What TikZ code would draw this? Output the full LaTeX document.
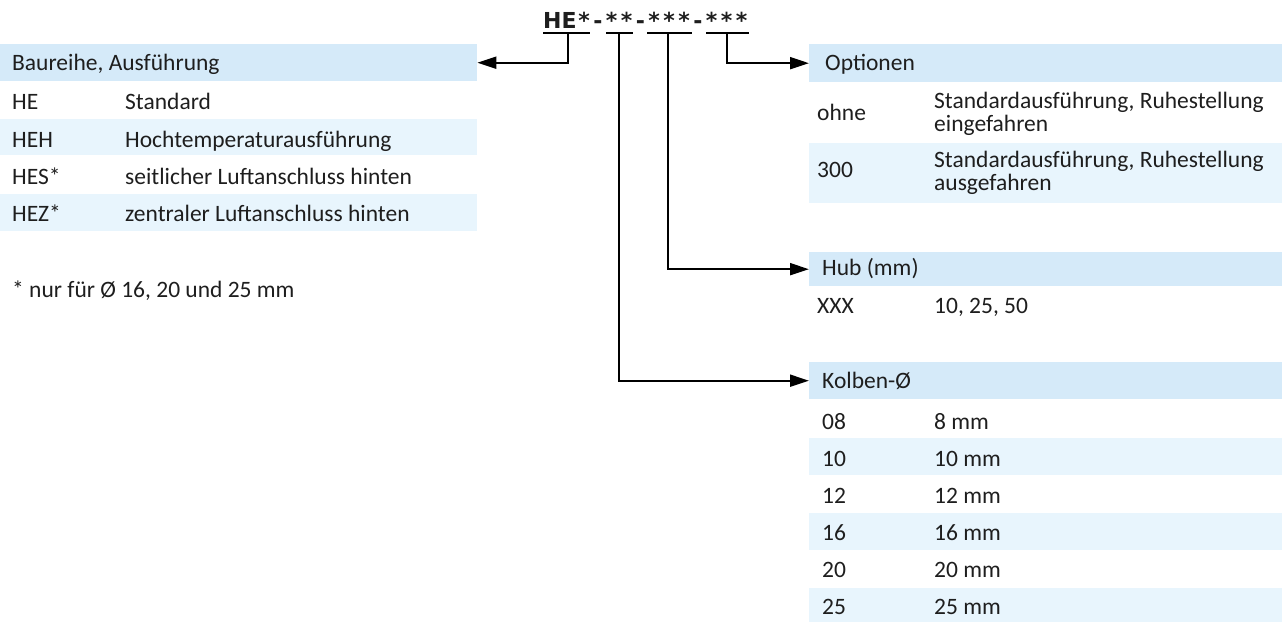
\documentclass[tikz,border=0pt]{standalone}
\usepackage{fontspec}
\setmainfont{Carlito}
\newfontfamily\titlefont{DejaVu Sans}
\usetikzlibrary{arrows.meta}
\definecolor{hdrblue}{RGB}{213,234,249}
\definecolor{rowblue}{RGB}{232,245,253}
\definecolor{textc}{RGB}{30,30,30}
\newcommand{\stA}{\makebox[15pt][c]{*}}
\newcommand{\dsh}{\makebox[12.5pt][c]{-}}
\begin{document}
\begin{tikzpicture}[x=1pt,y=-1pt,
  band/.style={fill=#1, draw=none, inner sep=0, anchor=north west},
  txt/.style={anchor=base west, inner sep=0, font=\fontsize{23.5}{28}\selectfont, text=textc},
  txt2/.style={anchor=west, inner sep=0, align=left, font=\fontsize{23.5}{23}\selectfont, text=textc},
  ttl/.style={anchor=base west, inner sep=0, font=\titlefont\fontsize{22}{26}\selectfont\bfseries, text=textc},
  seg/.style={line width=2pt},
  arr/.style={line width=2pt, -{Triangle[length=19pt,width=12pt]}}]
\useasboundingbox (0,0) rectangle (1282,621);

% ---------- title ----------
\node[ttl] (title) at (543,28) {HE\stA\dsh\stA\stA\dsh\stA\stA\stA\dsh\stA\stA\stA};
\coordinate (u1a) at (543,33); \coordinate (u1b) at (590,33);
\coordinate (u2a) at (606,33); \coordinate (u2b) at (633,33);
\coordinate (u3a) at (647,33); \coordinate (u3b) at (692,33);
\coordinate (u4a) at (706,33); \coordinate (u4b) at (749,33);
\draw[seg] (u1a) -- (u1b);
\draw[seg] (u2a) -- (u2b);
\draw[seg] (u3a) -- (u3b);
\draw[seg] (u4a) -- (u4b);
\coordinate (g1) at (568,33);
\coordinate (g2) at (619,33);
\coordinate (g3) at (668,33);
\coordinate (g4) at (727,33);

% ---------- left table ----------
\node[band=hdrblue, minimum width=477pt, minimum height=37pt] (bau) at (0,44) {};
\node[band=rowblue, minimum width=477pt, minimum height=36pt] (bauR2) at (0,119) {};
\node[band=rowblue, minimum width=477pt, minimum height=37pt] (bauR4) at (0,194) {};
\node[txt] (bauH) at (12,70) {Baureihe, Ausführung};
\node[txt] (b1a) at (12,109) {HE};
\node[txt] (b1b) at (125,109) {Standard};
\node[txt] (b2a) at (12,147) {HEH};
\node[txt] (b2b) at (125,147) {Hochtemperaturausführung};
\node[txt] (b3a) at (12,184) {HES*};
\node[txt] (b3b) at (125,184) {seitlicher Luftanschluss hinten};
\node[txt] (b4a) at (12,221) {HEZ*};
\node[txt] (b4b) at (125,221) {zentraler Luftanschluss hinten};
\node[txt] (foot) at (12,297) {* nur für Ø 16, 20 und 25 mm};

% ---------- Optionen ----------
\node[band=hdrblue, minimum width=473pt, minimum height=38pt] (opt) at (809,44) {};
\node[band=rowblue, minimum width=473pt, minimum height=60pt] (optR2) at (809,143) {};
\node[txt] (optH) at (825,70) {Optionen};
\node[txt] (o1a) at (817,120) {ohne};
\node[txt2] (o1b) at (934,114) {Standardausführung, Ruhestellung\\eingefahren};
\node[txt] (o2a) at (817,177) {300};
\node[txt2] (o2b) at (934,173) {Standardausführung, Ruhestellung\\ausgefahren};

% ---------- Hub ----------
\node[band=hdrblue, minimum width=473pt, minimum height=34pt] (hub) at (809,252) {};
\node[txt] (hubH) at (822,275) {Hub (mm)};
\node[txt] (h1a) at (817,313) {XXX};
\node[txt] (h1b) at (934,313) {10, 25, 50};

% ---------- Kolben ----------
\node[band=hdrblue, minimum width=473pt, minimum height=37pt] (kol) at (809,362) {};
\node[band=rowblue, minimum width=473pt, minimum height=37pt] (kolR2) at (809,438) {};
\node[band=rowblue, minimum width=473pt, minimum height=37pt] (kolR4) at (809,513) {};
\node[band=rowblue, minimum width=473pt, minimum height=40pt] (kolR6) at (809,588) {};
\node[txt] (kolH) at (822,388) {Kolben-Ø};
\node[txt] (k1a) at (822,429) {08};
\node[txt] (k1b) at (934,429) {8 mm};
\node[txt] (k2a) at (822,466) {10};
\node[txt] (k2b) at (934,466) {10 mm};
\node[txt] (k3a) at (822,503) {12};
\node[txt] (k3b) at (934,503) {12 mm};
\node[txt] (k4a) at (822,540) {16};
\node[txt] (k4b) at (934,540) {16 mm};
\node[txt] (k5a) at (822,577) {20};
\node[txt] (k5b) at (934,577) {20 mm};
\node[txt] (k6a) at (822,614) {25};
\node[txt] (k6b) at (934,614) {25 mm};

% ---------- connectors ----------
\draw[arr] (g1) |- (bau.east);
\draw[arr] (g4) |- (opt.west);
\draw[arr] (g3) |- (hub.west);
\draw[arr] (g2) |- (kol.west);
\end{tikzpicture}
\end{document}
